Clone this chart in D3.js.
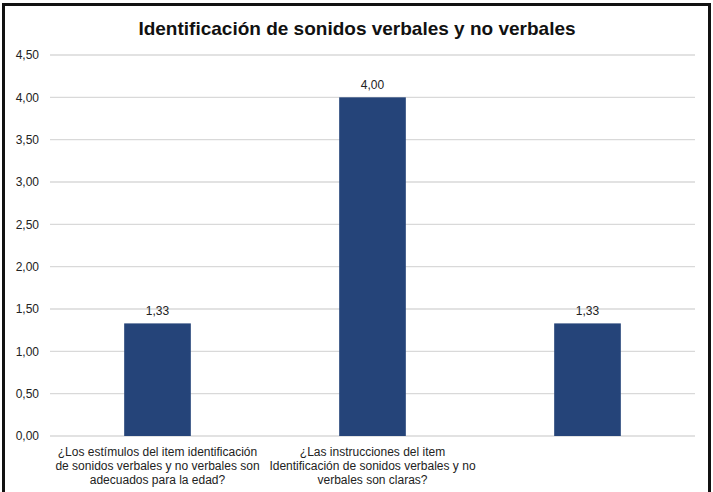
<!DOCTYPE html>
<html><head><meta charset="utf-8">
<script src="https://cdn.jsdelivr.net/npm/d3@7"></script>
<style>body{margin:0;background:#fff}svg{display:block}text{font-family:"Liberation Sans",Arial,sans-serif}</style>
</head><body>
<script>
const title = "Identificación de sonidos verbales y no verbales";
const categories = [
  ["¿Los estímulos del item identificación", "de sonidos verbales y no verbales son", "adecuados para la edad?"],
  ["¿Las instrucciones del item", "Identificación de sonidos verbales y no", "verbales son claras?"],
  [""]
];
const values = [1.33, 4.00, 1.33];
const yTicks = [0, 0.5, 1, 1.5, 2, 2.5, 3, 3.5, 4, 4.5];

(function () {
const W = 713, H = 492;
const svg = d3.select("body").append("svg").attr("width", W).attr("height", H);
svg.append("rect").attr("width", W).attr("height", H).attr("fill", "#fff");

const mLeft = 50, mRight = 695, mTop = 55, mBottom = 436;
const x = d3.scaleBand().domain(d3.range(values.length)).range([mLeft, mRight]).paddingInner(0.69).paddingOuter(0.345);
const y = d3.scaleLinear().domain([0, 4.5]).range([mBottom, mTop]);
const fmt = v => d3.format(".2f")(v).replace(".", ",");

// gridlines
svg.append("g").selectAll("line").data(yTicks).join("line")
  .attr("x1", mLeft).attr("x2", mRight)
  .attr("y1", d => y(d)).attr("y2", d => y(d))
  .attr("stroke", "#d9d9d9").attr("stroke-width", 1.3);

// y axis labels
const ya = svg.append("g").attr("transform", `translate(${mLeft - 11},0)`)
  .call(d3.axisLeft(y).tickValues(yTicks).tickFormat(fmt).tickSize(0).tickPadding(0));
ya.select(".domain").remove();
ya.selectAll("text").attr("font-size", 12).attr("fill", "#222").attr("font-family", "Liberation Sans, Arial, sans-serif");

// bars
svg.append("g").selectAll("rect").data(values).join("rect")
  .attr("x", (d, i) => x(i)).attr("width", x.bandwidth())
  .attr("y", d => y(d)).attr("height", d => y(0) - y(d))
  .attr("fill", "#254479");

// value labels
svg.append("g").selectAll("text").data(values).join("text")
  .attr("x", (d, i) => x(i) + x.bandwidth() / 2).attr("y", d => y(d) - 8)
  .attr("text-anchor", "middle").attr("font-size", 12).attr("fill", "#222")
  .text(fmt);

// category labels
const cat = svg.append("g").selectAll("text").data(categories).join("text")
  .attr("x", (d, i) => x(i) + x.bandwidth() / 2).attr("y", 456)
  .attr("text-anchor", "middle").attr("font-size", 12).attr("fill", "#222");
cat.selectAll("tspan").data(d => d).join("tspan")
  .attr("x", function() { return d3.select(this.parentNode).attr("x"); })
  .attr("dy", (d, i) => i === 0 ? 0 : 14).text(d => d);

// title
svg.append("text").attr("x", 357).attr("y", 35).attr("text-anchor", "middle")
  .attr("font-size", 19).attr("font-weight", "bold").attr("fill", "#111").text(title);

// frame
svg.append("rect").attr("x", 3.5).attr("y", 4.5).attr("width", 706).attr("height", 520)
  .attr("fill", "none").attr("stroke", "#111").attr("stroke-width", 3);
})();
</script>
</body></html>
